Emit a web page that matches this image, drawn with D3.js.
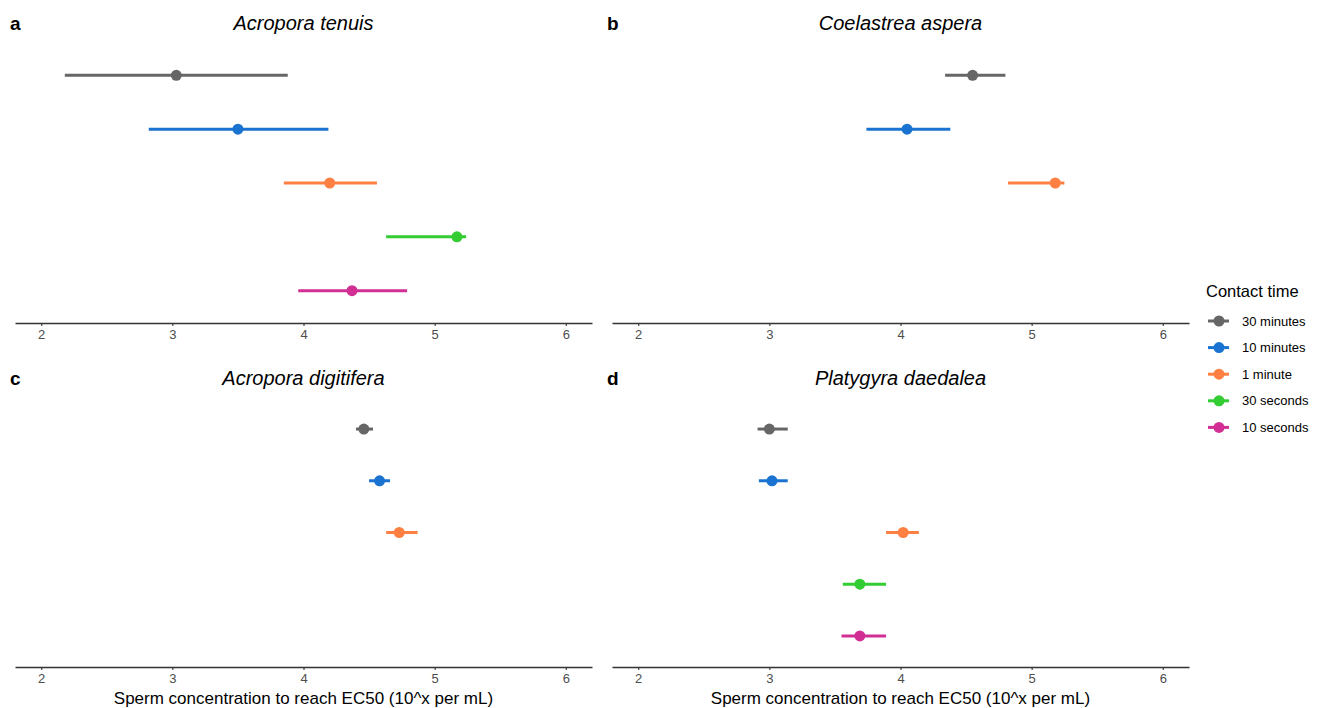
<!DOCTYPE html>
<html>
<head>
<meta charset="utf-8">
<script src="https://cdn.jsdelivr.net/npm/d3@7"></script>
<style>
  body { margin: 0; background: #fff; }
  svg { font-family: "Liberation Sans", Arial, sans-serif; }
</style>
</head>
<body>
<svg id="chart" width="1320" height="708"></svg>
<script>
'use strict';

// contact time levels, top to bottom
var contactTimes = ['30 minutes', '10 minutes', '1 minute', '30 seconds', '10 seconds'];
var timeColors = ['#666666', '#1a73d0', '#ff8042', '#33cc33', '#d12f93'];

var species = ['Acropora tenuis', 'Coelastrea aspera', 'Acropora digitifera', 'Platygyra daedalea'];
var panelLabels = ['a', 'b', 'c', 'd'];

// EC50 estimates (log10 sperm per mL) with lower / upper CI, per species
var tenuisEst   = [3.03, 3.50, 4.20, 5.17, 4.37];
var tenuisLow   = [2.18, 2.82, 3.85, 4.63, 3.96];
var tenuisHigh  = [3.88, 4.19, 4.56, 5.24, 4.79];

var asperaEst   = [4.55, 4.05, 5.18];
var asperaLow   = [4.34, 3.74, 4.82];
var asperaHigh  = [4.80, 4.38, 5.25];

var digitEst    = [4.46, 4.58, 4.73];
var digitLow    = [4.40, 4.50, 4.63];
var digitHigh   = [4.53, 4.66, 4.87];

var daedEst     = [3.00, 3.02, 4.02, 3.69, 3.69];
var daedLow     = [2.91, 2.92, 3.89, 3.56, 3.55];
var daedHigh    = [3.14, 3.14, 4.14, 3.89, 3.89];

var xTicks = [2, 3, 4, 5, 6];
var xTitle = 'Sperm concentration to reach EC50 (10^x per mL)';

function rows(est, low, high) {
  return est.map(function(e, i) {
    return { time: contactTimes[i], est: e, low: low[i], high: high[i] };
  });
}

var panels = [
  { data: rows(tenuisEst, tenuisLow, tenuisHigh), left: 15,  top: 43,  bottom: 323, xlab: false },
  { data: rows(asperaEst, asperaLow, asperaHigh), left: 612, top: 43,  bottom: 323, xlab: false },
  { data: rows(digitEst, digitLow, digitHigh),    left: 15,  top: 398, bottom: 667, xlab: true },
  { data: rows(daedEst, daedLow, daedHigh),       left: 612, top: 398, bottom: 667, xlab: true }
];
var panelWidth = 577;

var color = d3.scaleOrdinal().domain(contactTimes).range(timeColors);
var svg = d3.select('#chart');

panels.forEach(function(p, k) {
  var g = svg.append('g').attr('transform', 'translate(' + p.left + ',' + p.top + ')');
  var h = p.bottom - p.top;

  var x = d3.scaleLinear().domain([1.8, 6.2]).range([0, panelWidth]);
  var y = d3.scalePoint().domain(contactTimes).range([0, h]).padding(0.6);

  // error bars
  g.selectAll('.ci')
    .data(p.data)
    .enter().append('line')
      .attr('class', 'ci')
      .attr('x1', function(d) { return x(d.low); })
      .attr('x2', function(d) { return x(d.high); })
      .attr('y1', function(d) { return y(d.time); })
      .attr('y2', function(d) { return y(d.time); })
      .attr('stroke', function(d) { return color(d.time); })
      .attr('stroke-width', 3);

  g.selectAll('.pt')
    .data(p.data)
    .enter().append('circle')
      .attr('class', 'pt')
      .attr('cx', function(d) { return x(d.est); })
      .attr('cy', function(d) { return y(d.time); })
      .attr('r', 5.5)
      .attr('fill', function(d) { return color(d.time); });

  // x axis
  var ax = g.append('g')
    .attr('transform', 'translate(0,' + h + ')')
    .call(d3.axisBottom(x).tickValues(xTicks).tickFormat(d3.format('d'))
      .tickSizeInner(3).tickSizeOuter(0).tickPadding(4));
  ax.select('.domain').attr('stroke', '#333').attr('stroke-width', 1.5);
  ax.selectAll('.tick line').attr('stroke', '#333').attr('stroke-width', 1.1);
  ax.selectAll('.tick text').attr('fill', '#4d4d4d').style('font-size', '13px');

  if (p.xlab) {
    g.append('text')
      .attr('x', panelWidth / 2)
      .attr('y', h + 37)
      .attr('text-anchor', 'middle')
      .style('font-size', '17px')
      .attr('fill', '#000')
      .text(xTitle);
  }

  // titles
  g.append('text')
    .attr('x', panelWidth / 2)
    .attr('y', -13)
    .attr('text-anchor', 'middle')
    .style('font-size', '20px')
    .style('font-style', 'italic')
    .attr('fill', '#000')
    .text(species[k]);

  g.append('text')
    .attr('x', -5)
    .attr('y', -13)
    .style('font-size', '19px')
    .style('font-weight', 'bold')
    .attr('fill', '#000')
    .text(panelLabels[k]);
});

// legend
var legend = svg.append('g').attr('transform', 'translate(1206,0)');
legend.append('text')
  .attr('x', 0).attr('y', 297)
  .style('font-size', '16.5px')
  .attr('fill', '#000')
  .text('Contact time');

var item = legend.selectAll('.item')
  .data(contactTimes)
  .enter().append('g')
    .attr('class', 'item')
    .attr('transform', function(d, i) { return 'translate(0,' + (321 + i * 26.6) + ')'; });

item.append('line')
  .attr('x1', 2).attr('x2', 23)
  .attr('stroke', function(d) { return color(d); })
  .attr('stroke-width', 3);
item.append('circle')
  .attr('cx', 13).attr('r', 5.5)
  .attr('fill', function(d) { return color(d); });
item.append('text')
  .attr('x', 36).attr('y', 4.5)
  .style('font-size', '13px')
  .attr('fill', '#000')
  .text(function(d) { return d; });
</script>
</body>
</html>
